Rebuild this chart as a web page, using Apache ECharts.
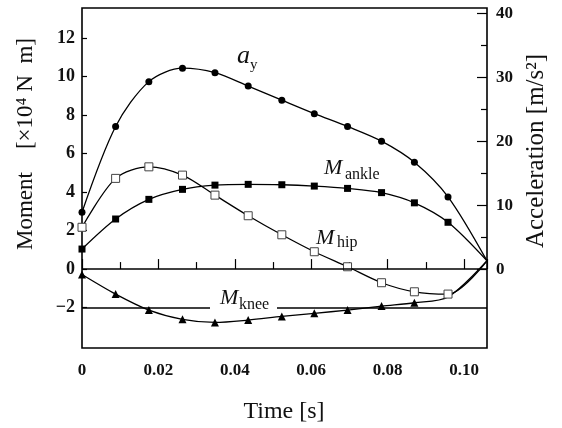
<!DOCTYPE html>
<html><head><meta charset="utf-8">
<script src="https://cdn.jsdelivr.net/npm/echarts@6/dist/echarts.min.js"></script>
<style>html,body{margin:0;padding:0;background:#fff}#c{width:562px;height:428px}</style>
</head><body><div id="c"></div>
<script>
// ---- data ----
const time = [0, 0.0088, 0.0175, 0.0263, 0.0348, 0.0435, 0.0523, 0.0608, 0.0695, 0.0784, 0.0870, 0.0958, 0.1060];
const ay    = [8.9, 22.3, 29.3, 31.4, 30.7, 28.6, 26.4, 24.3, 22.3, 20.0, 16.7, 11.3, 1.3];
const ankle = [1.04, 2.60, 3.62, 4.14, 4.36, 4.40, 4.38, 4.31, 4.19, 3.97, 3.44, 2.43, 0.43];
const hip   = [2.17, 4.71, 5.31, 4.88, 3.84, 2.77, 1.78, 0.90, 0.12, -0.71, -1.18, -1.30, 0.43];
const knee  = [-0.28, -1.30, -2.13, -2.61, -2.77, -2.65, -2.46, -2.30, -2.13, -1.92, -1.75, -1.45, 0.43];
const markedCount = { ay: 12, ankle: 12, hip: 12, knee: 11 };
const xTicks = [0, 0.02, 0.04, 0.06, 0.08, 0.10];
const momentTicks = [-2, 0, 2, 4, 6, 8, 10, 12];
const accelTicks = [0, 10, 20, 30, 40];
const accelMinorTicks = [5, 15, 25, 35];
const refLines = [0, -2];

const SERIF = '"Liberation Serif","Times New Roman",serif';
function pts(vals, n) {
  return time.map((t, i) => {
    const item = { value: [t, vals[i]] };
    if (i >= n) item.symbol = 'none';
    return item;
  });
}
const lineStyle = { color: '#000', width: 1.3 };
const SM = 0.3;
const chart = echarts.init(document.getElementById('c'), null, { renderer: 'canvas' });
chart.setOption({
  animation: false,
  backgroundColor: '#fff',
  grid: { left: 82, right: 75, top: 8, bottom: 80, show: true, borderColor: '#000', borderWidth: 1.6, backgroundColor: 'transparent' },
  xAxis: {
    type: 'value', min: 0, max: 0.106, interval: 0.02,
    axisLine: { show: false },
    axisTick: { inside: true, length: 10, lineStyle: { color: '#000', width: 1.2 } },
    minorTick: { show: true, splitNumber: 2, length: 7, lineStyle: { color: '#000', width: 1.2 } },
    splitLine: { show: false },
    axisLabel: {
      customValues: xTicks, margin: 14, color: '#111', fontFamily: SERIF, fontWeight: 'bold', fontSize: 17,
      formatter: v => v === 0 ? '0' : v.toFixed(2)
    }
  },
  yAxis: [
    {
      type: 'value', min: -4.1, max: 13.56, position: 'left',
      axisLine: { show: false }, splitLine: { show: false },
      axisTick: { inside: true, length: 5, customValues: momentTicks, lineStyle: { color: '#000', width: 1.2 } },
      axisLabel: { customValues: momentTicks, margin: 7, color: '#111', fontFamily: SERIF, fontWeight: 'bold', fontSize: 18,
        formatter: v => v < 0 ? '\u2212' + Math.abs(v) : String(v) }
    },
    {
      type: 'value', min: -12.3, max: 40.8, position: 'right',
      axisLine: { show: false }, splitLine: { show: false },
      axisTick: { inside: true, length: 10, customValues: accelTicks, lineStyle: { color: '#000', width: 1.2 } },
      axisLabel: { customValues: accelTicks, margin: 9, color: '#111', fontFamily: SERIF, fontWeight: 'bold', fontSize: 17 }
    },
    {
      type: 'value', min: -12.3, max: 40.8, position: 'right', offset: 0,
      axisLine: { show: false }, splitLine: { show: false },
      axisTick: { inside: true, length: 6, customValues: accelMinorTicks, lineStyle: { color: '#000', width: 1.2 } },
      axisLabel: { show: false }
    }
  ],
  series: [
    {
      name: 'ay', type: 'line', yAxisIndex: 1, smooth: SM, data: pts(ay, markedCount.ay),
      symbol: 'circle', symbolSize: 7, itemStyle: { color: '#000' }, lineStyle
    },
    {
      name: 'ankle', type: 'line', yAxisIndex: 0, smooth: SM, data: pts(ankle, markedCount.ankle),
      symbol: 'rect', symbolSize: 7, itemStyle: { color: '#000' }, lineStyle,
      markLine: {
        silent: true, symbol: 'none', label: { show: false },
        lineStyle: { color: '#000', width: 1.5, type: 'solid' },
        data: refLines.map(v => ({ yAxis: v }))
      }
    },
    {
      name: 'hip', type: 'line', yAxisIndex: 0, smooth: SM, data: pts(hip, markedCount.hip),
      symbol: 'rect', symbolSize: 8, showAllSymbol: true,
      itemStyle: { color: '#fff', borderColor: '#444', borderWidth: 1 }, lineStyle
    },
    {
      name: 'knee', type: 'line', yAxisIndex: 0, smooth: SM, data: pts(knee, markedCount.knee),
      symbol: 'triangle', symbolSize: 8, itemStyle: { color: '#000' }, lineStyle
    }
  ],
  graphic: [
    { type: 'text', z: 100, x: 26, y: 144, rotation: Math.PI / 2,
      style: { text: 'Moment    [\u00d710\u2074 N  m]', font: '23px ' + SERIF, fill: '#111', textAlign: 'center', textVerticalAlign: 'middle' } },
    { type: 'text', z: 100, x: 536, y: 151, rotation: Math.PI / 2,
      style: { text: 'Acceleration [m/s\u00b2]', font: '25px ' + SERIF, fill: '#111', textAlign: 'center', textVerticalAlign: 'middle' } },
    { type: 'text', z: 100, x: 284, y: 412,
      style: { text: 'Time [s]', font: '24px ' + SERIF, fill: '#111', textAlign: 'center', textVerticalAlign: 'middle' } },
    // series labels
    { type: 'text', z: 100, x: 237, y: 56, style: { text: 'a', font: 'italic 26px ' + SERIF, fill: '#111', textVerticalAlign: 'middle' } },
    { type: 'text', z: 100, x: 250, y: 65, style: { text: 'y', font: '15px ' + SERIF, fill: '#111', textVerticalAlign: 'middle' } },
    { type: 'text', z: 100, x: 324, y: 168, style: { text: 'M', font: 'italic 22px ' + SERIF, fill: '#111', textVerticalAlign: 'middle' } },
    { type: 'text', z: 100, x: 345, y: 175, style: { text: 'ankle', font: '16px ' + SERIF, fill: '#111', textVerticalAlign: 'middle' } },
    { type: 'text', z: 100, x: 316, y: 238, style: { text: 'M', font: 'italic 22px ' + SERIF, fill: '#111', textVerticalAlign: 'middle' } },
    { type: 'text', z: 100, x: 337, y: 243, style: { text: 'hip', font: '16px ' + SERIF, fill: '#111', textVerticalAlign: 'middle' } },
    { type: 'rect', z: 99, shape: { x: 210, y: 288, width: 67, height: 28 }, style: { fill: '#fff' } },
    { type: 'text', z: 100, x: 220, y: 298, style: { text: 'M', font: 'italic 22px ' + SERIF, fill: '#111', textVerticalAlign: 'middle' } },
    { type: 'text', z: 100, x: 239, y: 305, style: { text: 'knee', font: '16px ' + SERIF, fill: '#111', textVerticalAlign: 'middle' } }
  ]
});
</script></body></html>
